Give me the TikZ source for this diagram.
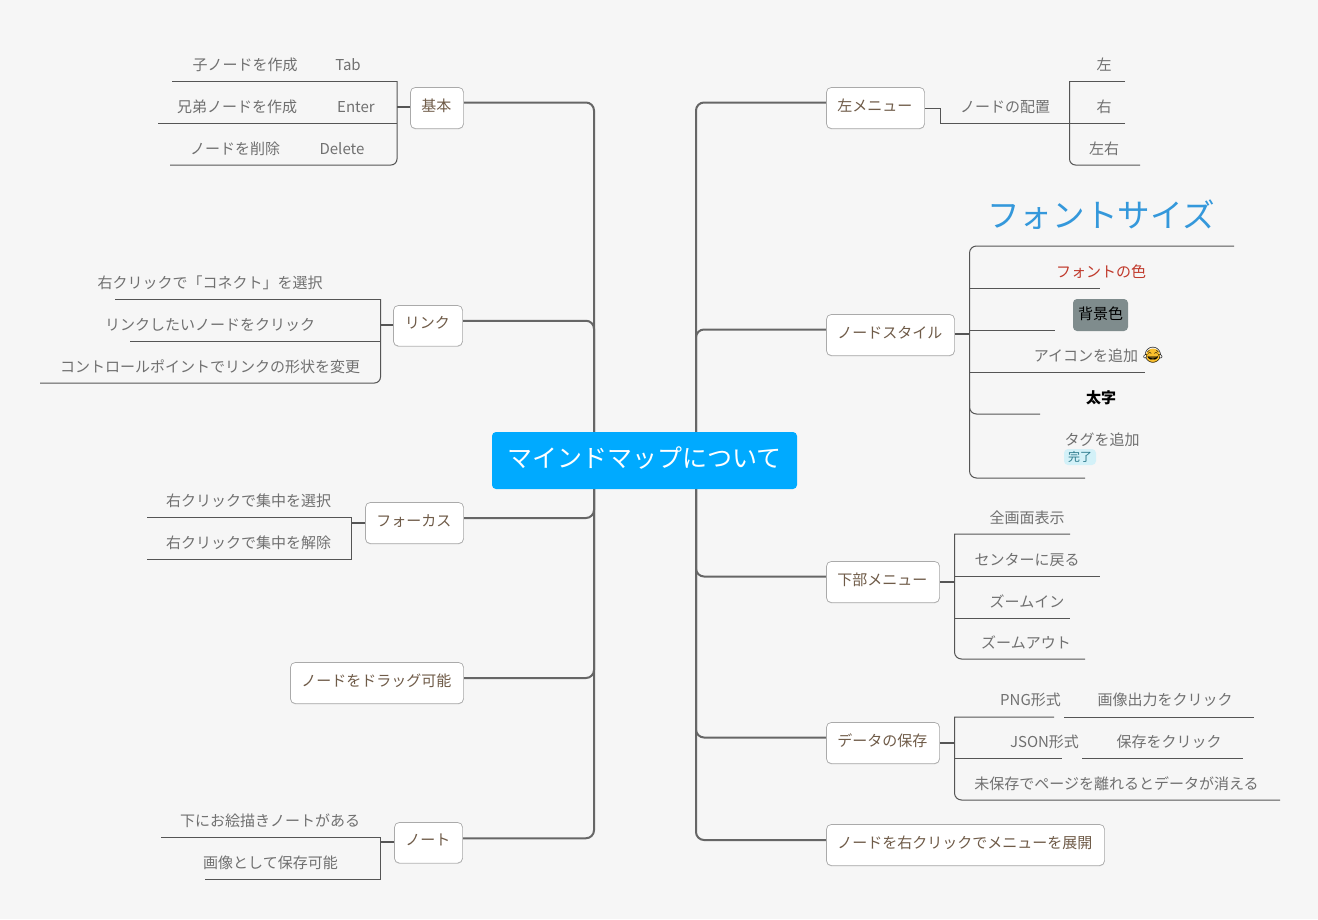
\documentclass[tikz,border=0pt]{standalone}
\usepackage{fontspec}
\setmainfont{Noto Sans CJK JP}
\newfontfamily\emojifont{Noto Emoji}
\usetikzlibrary{backgrounds,shadows,calc}
\definecolor{bgc}{HTML}{F6F6F6}
\definecolor{rootc}{HTML}{00AAFF}
\definecolor{trunkc}{HTML}{666666}
\definecolor{linec}{HTML}{555555}
\definecolor{leafc}{HTML}{707070}
\definecolor{boxt}{HTML}{6F5B48}
\definecolor{boxb}{HTML}{AAAAAA}
\definecolor{fsizec}{HTML}{3498DB}
\definecolor{fcolc}{HTML}{C0392B}
\definecolor{bgbox}{HTML}{7F8C8D}
\definecolor{emojic}{HTML}{FBC02D}
\definecolor{tagbg}{HTML}{D3F1F8}
\definecolor{tagfg}{HTML}{2C7A8C}
\tikzset{
  x=1pt,y=-1pt,
  trunk/.style={draw=trunkc,line width=2pt,rounded corners=8pt},
  stub/.style={draw=linec,line width=2pt},
  uline/.style={draw=linec,line width=1pt},
  leaf/.style={inner sep=0pt,text=leafc,font=\fontsize{15}{15}\selectfont,text height=13.4pt,text depth=0pt},
  mbox/.style={rectangle,rounded corners=5pt,draw=boxb,fill=white,line width=.7pt,inner sep=0pt,text=boxt,
    font=\fontsize{15}{15}\selectfont,text height=11pt,text depth=4.6pt,
    drop shadow={shadow xshift=0pt,shadow yshift=-.8pt,fill=black,opacity=.12}},
}
\newcommand{\mmbox}[6]{\node[mbox,minimum width=#4pt-#2pt-.8pt,minimum height=#5pt-#3pt-.8pt] (#1) at ({(#2+#4)/2},{(#3+#5)/2}) {#6\kern1.5pt};}
\newcommand{\mmleaf}[4]{\node[leaf] (#1) at (#2,#3) {#4};}
\begin{document}
\begin{tikzpicture}
\useasboundingbox (0,0) rectangle (1318,919);
% root
\node[rectangle,rounded corners=4pt,fill=rootc,text=white,inner sep=0pt,minimum width=305pt,minimum height=57pt,
  font=\fontsize{25}{25}\selectfont,text height=19pt,text depth=6pt] (root) at (644.5,460.5) {マインドマップについて};
% left boxes
\mmbox{kihon}{410}{87}{464}{129}{基本}
\mmbox{link}{393}{305}{463}{346.5}{リンク}
\mmbox{focus}{365}{502}{464}{544}{フォーカス}
\mmbox{drag}{290}{662}{464}{704}{ノードをドラッグ可能}
\mmbox{note}{394}{822}{463}{863.5}{ノート}
% right boxes
\mmbox{lmenu}{826}{87}{925}{129}{左メニュー}
\mmbox{style}{826}{314}{955}{356}{ノードスタイル}
\mmbox{bmenu}{826}{561}{940}{603}{下部メニュー}
\mmbox{save}{826}{722}{940}{764}{データの保存}
\mmbox{rclick}{826}{824}{1105}{866}{ノードを右クリックでメニューを展開}
% trunk anchors
\coordinate (lt) at ([xshift=-50.5pt]root.center);
\coordinate (rt) at ([xshift=51.5pt]root.center);
\begin{pgfonlayer}{background}
\fill[bgc] (0,0) rectangle (1318,919);
\foreach \n/\s in {kihon/5.5,link/5,focus/5,drag/5,note/4.5}
  \draw[trunk] (lt) |- ([yshift=\s pt]\n.east);
\foreach \n/\s in {lmenu/5.5,style/5.5,bmenu/5.5,save/5.5,rclick/5}
  \draw[trunk] (rt) |- ([yshift=\s pt]\n.west);
\end{pgfonlayer}
% left leaves
\mmleaf{a1}{245}{64}{子ノードを作成}
\mmleaf{a1b}{348}{64}{Tab}
\mmleaf{a2}{237}{106}{兄弟ノードを作成}
\mmleaf{a2b}{356}{106}{Enter}
\mmleaf{a3}{235}{148}{ノードを削除}
\mmleaf{a3b}{342}{148}{Delete}
\mmleaf{b1}{210}{282}{右クリックで「コネクト」を選択}
\mmleaf{b2}{210}{324}{リンクしたいノードをクリック}
\mmleaf{b3}{210}{366}{コントロールポイントでリンクの形状を変更}
\mmleaf{c1}{248.5}{500}{右クリックで集中を選択}
\mmleaf{c2}{248.5}{542}{右クリックで集中を解除}
\mmleaf{d1}{270}{820}{下にお絵描きノートがある}
\mmleaf{d2}{270.5}{862}{画像として保存可能}
% right leaves
\mmleaf{e0}{1005}{106}{ノードの配置}
\mmleaf{e1}{1104}{64}{左}
\mmleaf{e2}{1104}{106}{右}
\mmleaf{e3}{1104}{148}{左右}
\node[leaf,font=\fontsize{32.6}{32.6}\selectfont,text height=24pt,text=fsizec] (f1) at (1101,215) {フォントサイズ};
\node[leaf,text=fcolc] (f2) at (1101,271) {フォントの色};
\node[rectangle,rounded corners=4pt,fill=bgbox,inner sep=0pt,minimum width=55pt,minimum height=32pt,text=black,
  font=\fontsize{15}{15}\selectfont,text height=11.4pt,text depth=2pt] (f3) at (1100.5,315) {背景色};
\mmleaf{f4}{1086}{355}{アイコンを追加}
\node[circle,fill=emojic,minimum size=14pt,inner sep=0pt] (f4e) at (1153,355.5) {};
\node[inner sep=0pt,font=\fontsize{15.5}{15.5}\emojifont,text=black] (f4g) at (f4e) {😂};
\node[leaf,text=black,font=\fontsize{15}{15}\selectfont\bfseries] (f5) at (1101,397) {太字};
\mmleaf{f6}{1102}{439}{タグを追加}
\node[rectangle,rounded corners=4pt,fill=tagbg,text=tagfg,inner sep=0pt,minimum width=32pt,minimum height=16pt,
  font=\fontsize{12}{12}\selectfont,text height=9pt] (f6t) at (1080,457) {完了};
\mmleaf{g1}{1027}{517}{全画面表示}
\mmleaf{g2}{1027}{559}{センターに戻る}
\mmleaf{g3}{1027}{601}{ズームイン}
\mmleaf{g4}{1026}{642}{ズームアウト}
\mmleaf{h1}{1030.5}{699}{PNG形式}
\mmleaf{h1b}{1165}{699}{画像出力をクリック}
\mmleaf{h2}{1044.5}{741}{JSON形式}
\mmleaf{h2b}{1169}{741}{保存をクリック}
\mmleaf{h3}{1116.5}{783}{未保存でページを離れるとデータが消える}
% left brackets
\coordinate (ka) at (397,81); \coordinate (kb) at (397,123); \coordinate (kc) at (397,165);
\draw[uline] (172,81) -- (ka);
\draw[uline] (158,123) -- (kb);
\draw[uline] (ka) -- (kb) [rounded corners=6pt] -- (kc) -- (170,165);
\draw[stub] ([yshift=1.5pt]kihon.west) -- ([yshift=1.5pt]kihon.west -| ka);
\coordinate (la) at (380.5,299); \coordinate (lb) at (380.5,341); \coordinate (lc) at (380.5,383);
\draw[uline] (115,299) -- (la);
\draw[uline] (130,341) -- (lb);
\draw[uline] (la) -- (lb) [rounded corners=6pt] -- (lc) -- (40,383);
\draw[stub] ([yshift=1pt]link.west) -- ([yshift=1pt]link.west -| la);
\coordinate (fa) at (351.5,517); \coordinate (fb) at (351.5,559);
\draw[uline] (147,517) -- (fa) -- (fb) -- (147,559);
\draw[stub] (focus.west) -- (focus.west -| fa);
\coordinate (na) at (380.5,837); \coordinate (nb) at (380.5,879);
\draw[uline] (161,837) -- (na) -- (nb) -- (205,879);
\draw[stub] ([yshift=.5pt]note.west) -- ([yshift=.5pt]note.west -| na);
% right brackets
\coordinate (ma) at (1069.5,81); \coordinate (mb) at (1069.5,123); \coordinate (mc) at (1069.5,165);
\draw[uline] (1125,81) -- (ma);
\draw[uline] (1125,123) -- (mb);
\draw[uline] (ma) -- (mb) [rounded corners=6pt] -- (mc) -- (1140,165);
\draw[uline] (lmenu.east) -- (940,108) -- (940,123) -- (mb);
\coordinate (sa) at (969.5,246); \coordinate (sb) at (969.5,478);
\draw[uline,rounded corners=7pt] (1234,246) -- (sa) -- (sb) -- (1085,478);
\draw[uline] (969.5,288) -- (1100,288);
\draw[uline] (969.5,330) -- (1055,330);
\draw[uline] (969.5,372) -- (1145,372);
\draw[uline,rounded corners=7pt] (969.5,400) -- (969.5,414) -- (1040,414);
\draw[stub] ([yshift=1pt]style.east) -- ([yshift=1pt]style.east -| sa);
\coordinate (ba) at (954.5,534); \coordinate (bc) at (954.5,659);
\draw[uline] (1070,534) -- (ba) [rounded corners=7pt] -- (bc) -- (1085,659);
\draw[uline] (954.5,576) -- (1100,576);
\draw[uline] (954.5,618) -- (1070,618);
\draw[stub] (bmenu.east) -- (bmenu.east -| ba);
\coordinate (da) at (954.5,717); \coordinate (dc) at (954.5,800);
\draw[uline] (1054,717) -- (da) [rounded corners=7pt] -- (dc) -- (1280,800);
\draw[uline] (1064,717) -- (1254,717);
\draw[uline] (954.5,758) -- (1062,758);
\draw[uline] (1082,758) -- (1243,758);
\draw[stub] (save.east) -- (save.east -| da);
\end{tikzpicture}
\end{document}
